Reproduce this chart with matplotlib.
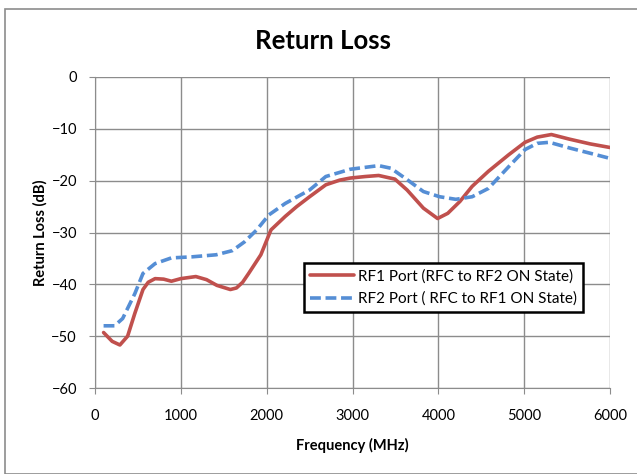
import matplotlib
matplotlib.use("Agg")
import matplotlib.pyplot as plt
from matplotlib.patches import Rectangle

freq_rf1 = [100, 200, 290, 380, 464, 559, 620, 700, 800, 890, 1000, 1175, 1300, 1420, 1577, 1648, 1720, 1790, 1932, 2050,
            2216, 2350, 2500, 2689, 2850, 2973, 3150, 3305, 3494, 3636, 3826, 3991, 4110, 4252, 4394, 4583, 4820,
            5010, 5152, 5317, 5530, 5767, 6000]
rl_rf1 = [-49.3, -51.0, -51.7, -50.0, -45.6, -41.0, -39.6, -38.9, -39.0, -39.4, -38.9, -38.5, -39.1, -40.2, -41.0, -40.7, -39.6,
          -37.9, -34.3, -29.5, -26.9, -25.0, -23.1, -20.8, -19.9, -19.5, -19.2, -19.0, -19.7, -21.8, -25.3, -27.3, -26.3,
          -24.0, -21.1, -18.2, -15.0, -12.6, -11.6, -11.1, -12.0, -12.9, -13.6]

freq_rf2 = [100, 227, 322, 464, 559, 700, 890, 1127, 1411, 1600, 1742, 1884, 2026, 2216, 2500, 2689, 2973, 3305, 3447,
            3636, 3826, 4015, 4204, 4394, 4583, 4820, 5010, 5152, 5294, 5530, 5767, 6000]
rl_rf2 = [-48.0, -48.0, -46.6, -41.8, -37.9, -36.0, -34.9, -34.7, -34.3, -33.5, -31.8, -29.5, -26.6, -24.4, -21.8, -19.2,
          -17.8, -17.1, -17.6, -19.8, -22.1, -23.1, -23.6, -23.1, -21.5, -17.3, -14.0, -12.8, -12.6, -13.7, -14.7, -15.7]

labels = ["RF1 Port (RFC to RF2 ON State)", "RF2 Port ( RFC to RF1 ON State)"]
xticks = [0, 1000, 2000, 3000, 4000, 5000, 6000]
yticks = [0, -10, -20, -30, -40, -50, -60]

plt.rcParams['font.family'] = ['Lato', 'DejaVu Sans']

fig = plt.figure(figsize=(6.37, 4.74), dpi=100)
fig.patches.append(Rectangle((5/637, 0), 1.0, 1 - 9/474, transform=fig.transFigure,
                             fill=False, edgecolor='#8c8c8c', linewidth=1.2))
ax = fig.add_axes([95/637, 1 - 388/474, 515/637, 311/474])

ax.plot(freq_rf1, rl_rf1, color='#C0504D', linewidth=2.6, label=labels[0], solid_capstyle='round')
ax.plot(freq_rf2, rl_rf2, color='#558ED5', linewidth=2.6, linestyle=(0, (3, 1.3)), label=labels[1])

ax.set_xlim(0, 6000)
ax.set_ylim(-60, 0)
ax.set_xticks(xticks)
ax.set_yticks(yticks)
ax.grid(True, color='#8c8c8c', linewidth=1.0)
ax.set_axisbelow(True)
for s in ['top', 'right']:
    ax.spines[s].set_visible(False)
for s in ['left', 'bottom']:
    ax.spines[s].set_color('#8c8c8c')
ax.tick_params(axis='both', colors='#8c8c8c', labelcolor='black', labelsize=10.5, length=4, direction='out')
ax.tick_params(axis='x', pad=11)
ax.tick_params(axis='y', pad=9)

fig.text(323/637, 1 - 41/474, "Return Loss", fontsize=18.5, fontweight='bold', ha='center', va='center')
ax.set_xlabel("Frequency (MHz)", fontsize=10.5, fontweight='bold', labelpad=11)
ax.set_ylabel("Return Loss (dB)", fontsize=10.5, fontweight='bold', labelpad=3)

leg = ax.legend(loc='upper left', bbox_to_anchor=((304-95)/515, (388-263)/311), fontsize=11,
                frameon=True, fancybox=False, edgecolor='black', framealpha=1, borderaxespad=0,
                handlelength=2.9, handletextpad=0.25, borderpad=0.4, labelspacing=0.55)
leg.get_frame().set_linewidth(1.8)

fig.savefig("out.png", dpi=100)
